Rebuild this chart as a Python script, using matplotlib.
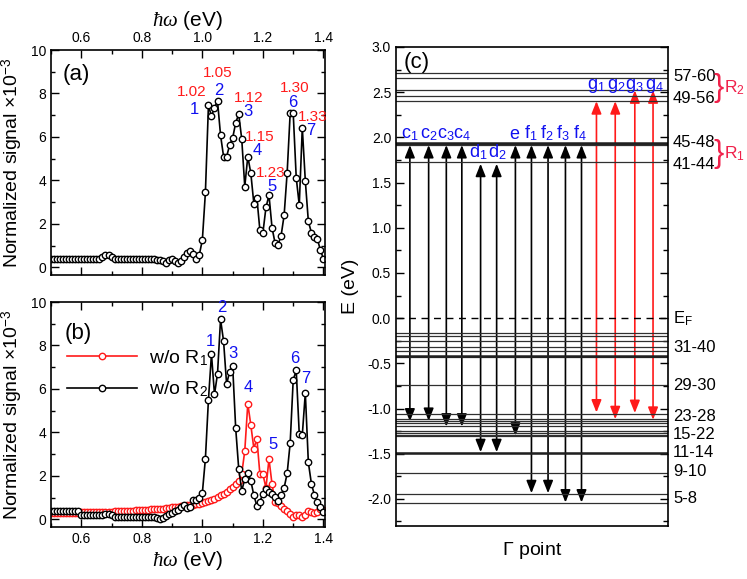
import numpy as np
import matplotlib
matplotlib.use('Agg')
import matplotlib.pyplot as plt
from matplotlib.patches import FancyArrowPatch
from matplotlib.ticker import MultipleLocator

plt.rcParams['font.family'] = ['Liberation Sans', 'DejaVu Sans']
plt.rcParams['mathtext.fontset'] = 'custom'
plt.rcParams['mathtext.rm'] = 'Liberation Sans'
plt.rcParams['mathtext.it'] = 'Liberation Serif:italic'

BLUE = '#1010f0'
RED = '#ff1a1a'
PINK = '#f0204a'

# ---- data: panel (a), photon energy in eV, signal x1e-3
energy = np.round(np.arange(0.50, 1.405, 0.01), 2)
sig_a = [0.40, 0.40, 0.40, 0.40, 0.40, 0.40, 0.40, 0.40, 0.40, 0.40,
         0.40, 0.40, 0.40, 0.40, 0.40, 0.40, 0.40, 0.47, 0.55, 0.58,
         0.50, 0.38, 0.40, 0.40, 0.40, 0.40, 0.40, 0.40, 0.40, 0.40,
         0.40, 0.40, 0.40, 0.39, 0.38, 0.36, 0.33, 0.28, 0.22, 0.35,
         0.38, 0.28, 0.18, 0.28, 0.50, 0.68, 0.74, 0.60, 0.40, 0.58,
         1.28, 3.45, 7.45, 6.95, 7.35, 7.65, 6.08, 5.10, 5.10, 5.62,
         5.95, 6.65, 7.05, 5.90, 3.72, 5.10, 4.33, 2.93, 3.20, 1.70,
         1.60, 2.76, 3.32, 1.83, 1.12, 1.04, 1.46, 2.40, 4.36, 7.10,
         7.10, 4.12, 2.87, 6.42, 3.98, 2.12, 1.60, 1.38, 1.30, 0.78,
         0.40]

# ---- data: panel (b)
sig_wo_r1 = [0.28, 0.28, 0.29, 0.29, 0.29, 0.30, 0.30, 0.30, 0.31, 0.31,
             0.32, 0.32, 0.32, 0.33, 0.33, 0.34, 0.34, 0.35, 0.35, 0.36,
             0.36, 0.37, 0.37, 0.38, 0.38, 0.39, 0.40, 0.40, 0.41, 0.42,
             0.43, 0.44, 0.45, 0.46, 0.47, 0.48, 0.49, 0.50, 0.52, 0.53,
             0.55, 0.56, 0.58, 0.60, 0.62, 0.64, 0.66, 0.68, 0.70, 0.73,
             0.76, 0.80, 0.85, 0.90, 0.96, 1.02, 1.10, 1.18, 1.27, 1.38,
             1.50, 1.62, 1.75, 2.10, 3.15, 5.32, 4.34, 3.26, 3.72, 2.07,
             2.07, 1.45, 2.77, 1.63, 0.80, 0.74, 0.60, 0.46, 0.40, 0.25,
             0.12, 0.18, 0.22, 0.12, 0.22, 0.40, 0.35, 0.30, 0.35, 0.50,
             0.45]
sig_wo_r2 = [0.38, 0.38, 0.38, 0.38, 0.38, 0.38, 0.38, 0.38, 0.38, 0.38,
             0.20, 0.20, 0.20, 0.20, 0.20, 0.20, 0.20, 0.20, 0.26, 0.26,
             0.20, 0.13, 0.11, 0.11, 0.11, 0.11, 0.11, 0.11, 0.11, 0.11,
             0.11, 0.11, 0.11, 0.11, 0.11, 0.06, 0.04, 0.06, 0.15, 0.26,
             0.30, 0.38, 0.43, 0.56, 0.64, 0.54, 0.56, 0.88, 0.90, 1.00,
             1.23, 2.80, 5.50, 7.60, 5.75, 6.70, 9.20, 8.20, 6.22, 6.80,
             7.05, 4.20, 2.33, 1.32, 1.85, 2.15, 1.78, 1.10, 0.63, 0.82,
             1.18, 1.38, 1.25, 1.18, 1.03, 0.85, 1.12, 1.45, 2.12, 3.52,
             6.42, 6.85, 3.92, 3.88, 5.82, 2.62, 1.65, 1.12, 0.80, 0.55,
             0.32]

# peak annotations
peak_num = ['1', '2', '3', '4', '5', '6', '7']
num_a_x = [0.972, 1.053, 1.152, 1.180, 1.230, 1.300, 1.357]
num_a_y = [7.26, 8.14, 7.18, 5.39, 3.70, 7.60, 6.31]
peak_e = ['1.02', '1.05', '1.12', '1.15', '1.23', '1.30', '1.33']
pe_x = [0.964, 1.052, 1.152, 1.188, 1.225, 1.305, 1.365]
pe_y = [8.06, 8.92, 7.80, 6.00, 4.34, 8.26, 6.93]
num_b_x = [1.028, 1.063, 1.100, 1.150, 1.233, 1.305, 1.343]
num_b_y = [8.20, 9.73, 7.63, 6.05, 3.45, 7.39, 6.47]

# ---- data: panel (c), levels in eV
levels = [2.716, 2.657, 2.524, 2.461, 2.402, 1.930, 1.919, 1.727,
          -0.170, -0.196, -0.250, -0.314, -0.369, -0.435, -0.745,
          -1.059, -1.118, -1.137, -1.155, -1.199, -1.247, -1.273, -1.290,
          -1.300, -1.494, -1.716, -1.945, -2.048]
thick_levels = [1.941, -0.424, -1.487]
level_labels = ['57-60', '49-56', '45-48', '41-44', 'E$_\\mathregular{F}$',
                '31-40', '29-30', '23-28', '15-22', '11-14', '9-10', '5-8']
level_label_y = [2.67, 2.435, 1.94, 1.70, -0.01, -0.32, -0.745, -1.09,
                 -1.29, -1.49, -1.70, -2.00]
groups = ['R$_2$', 'R$_1$']
group_y = [2.55, 1.82]

tr_names = ['c$_1$', 'c$_2$', 'c$_3$', 'c$_4$', 'd$_1$', 'd$_2$', 'e',
            'f$_1$', 'f$_2$', 'f$_3$', 'f$_4$', 'g$_1$', 'g$_2$', 'g$_3$', 'g$_4$']
tr_x = [0.051, 0.120, 0.185, 0.242, 0.311, 0.370, 0.439, 0.498, 0.559,
        0.623, 0.682, 0.737, 0.806, 0.878, 0.945]
tr_top = [1.915, 1.915, 1.915, 1.915, 1.708, 1.708, 1.915, 1.915, 1.915,
          1.915, 1.915, 2.40, 2.40, 2.52, 2.52]
tr_bot = [-1.144, -1.137, -1.20, -1.20, -1.483, -1.483, -1.30, -1.937,
          -1.937, -2.04, -2.04, -1.044, -1.118, -1.05, -1.125]
tr_label_x = [0.051, 0.120, 0.185, 0.242, 0.304, 0.373, 0.435, 0.496, 0.553,
              0.614, 0.676, 0.737, 0.810, 0.878, 0.951]
tr_label_y = [1.985] * 4 + [1.775] * 2 + [1.985] * 5 + [2.53] * 4

W, H = 747, 579
fig = plt.figure(figsize=(W / 100, H / 100), dpi=100)

def px_axes(l, t, r, b):
    return fig.add_axes([l / W, 1 - b / H, (r - l) / W, (b - t) / H])

ax_a = px_axes(51, 50, 325, 275)
ax_b = px_axes(51, 302, 325, 527)
ax_c = px_axes(396, 47, 668, 526)

mk = dict(marker='o', ms=4.6, mfc='white', mew=1.0, lw=1.2)

def style_spec(ax):
    ax.set_xlim(0.5, 1.405)
    ax.set_ylim(-0.35, 10)
    ax.xaxis.set_major_locator(MultipleLocator(0.2))
    ax.xaxis.set_minor_locator(MultipleLocator(0.1))
    ax.yaxis.set_major_locator(MultipleLocator(2))
    ax.yaxis.set_minor_locator(MultipleLocator(1))
    ax.tick_params(which='both', direction='in', top=True, right=True,
                   labelsize=10, width=1)
    ax.tick_params(which='major', length=6)
    ax.tick_params(which='minor', length=3)
    for s in ax.spines.values():
        s.set_linewidth(1.2)
    ax.set_ylabel('Normalized signal $\\times$10$^{-3}$', fontsize=14, labelpad=4)

# (a)
ax_a.plot(energy, sig_a, color='black', mec='black', **mk)
style_spec(ax_a)
ax_a.tick_params(labeltop=True, labelbottom=False)
ax_a.xaxis.set_label_position('top')
ax_a.set_xlabel('$\\hbar\\omega$ (eV)', fontsize=15, labelpad=4)
ax_a.text(0.585, 8.87, '(a)', fontsize=16, ha='center', va='center')
for t, x, y in zip(peak_num, num_a_x, num_a_y):
    ax_a.text(x, y, t, color=BLUE, fontsize=12, ha='center', va='center')
for t, x, y in zip(peak_e, pe_x, pe_y):
    ax_a.text(x, y, t, color=RED, fontsize=11, ha='center', va='center')

# (b)
ax_b.plot(energy, sig_wo_r1, color=RED, mec=RED, label='w/o R$_1$', **mk)
ax_b.plot(energy, sig_wo_r2, color='black', mec='black', label='w/o R$_2$', **mk)
style_spec(ax_b)
ax_b.set_xlabel('$\\hbar\\omega$ (eV)', fontsize=15, labelpad=2)
ax_b.text(0.59, 8.55, '(b)', fontsize=16, ha='center', va='center')
for t, x, y in zip(peak_num, num_b_x, num_b_y):
    ax_b.text(x, y, t, color=BLUE, fontsize=12, ha='center', va='center')
ax_b.legend(loc='upper left', bbox_to_anchor=(0.03, 0.83), frameon=False,
            fontsize=14, handlelength=3.6, numpoints=1, labelspacing=0.6,
            handletextpad=0.6, borderaxespad=0)

# (c)
ax_c.set_xlim(0, 1)
ax_c.set_ylim(-2.3, 3.0)
for e in levels:
    ax_c.axhline(e, color='#303030', lw=0.9)
for e in thick_levels:
    ax_c.axhline(e, color='#202020', lw=1.8)
ax_c.axhline(0.0, color='black', lw=1.0, ls=(0, (5, 4)))
for x, y0, y1 in zip(tr_x, tr_bot, tr_top):
    c = RED if y1 > 2.2 else 'black'
    arr = FancyArrowPatch((x, y0), (x, y1),
                          arrowstyle='<|-|>,head_length=0.75,head_width=0.3',
                          mutation_scale=10, color=c, lw=1.2,
                          shrinkA=0, shrinkB=0)
    ax_c.add_patch(arr)
for t, x, y in zip(tr_names, tr_label_x, tr_label_y):
    ax_c.text(x, y, t, color=BLUE, fontsize=13, ha='center', va='baseline')
ytr = ax_c.get_yaxis_transform()
for t, y in zip(level_labels, level_label_y):
    ax_c.text(1.018, y, t, fontsize=12, ha='left', va='center', transform=ytr)
for lab, yc in zip(groups, group_y):
    ax_c.text(1.186, yc, '}', fontsize=22, color=PINK, ha='center', va='center',
              transform=ytr)
    ax_c.text(1.207, yc, lab, fontsize=12.5, color=PINK, ha='left', va='center',
              transform=ytr)
ax_c.text(0.075, 2.83, '(c)', fontsize=16, ha='center', va='center')
ax_c.yaxis.set_major_locator(MultipleLocator(0.5))
ax_c.yaxis.set_minor_locator(MultipleLocator(0.25))
ax_c.set_xticks([])
ax_c.tick_params(which='both', direction='in', right=True, labelsize=10, width=1)
ax_c.tick_params(which='major', length=6)
ax_c.tick_params(which='minor', length=3.5)
ax_c.yaxis.set_major_formatter(matplotlib.ticker.FormatStrFormatter('%.1f'))
for s in ax_c.spines.values():
    s.set_linewidth(1.2)
ax_c.set_ylabel('E (eV)', fontsize=14, labelpad=6)
ax_c.set_xlabel('$\\Gamma$ point', fontsize=14, labelpad=10)

fig.savefig('out.png', dpi=100)
